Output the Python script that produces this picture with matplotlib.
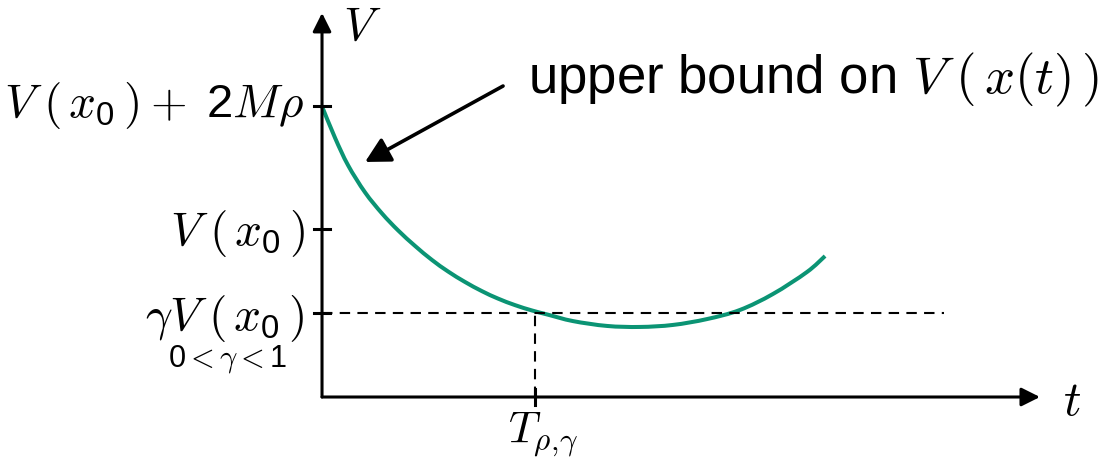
import matplotlib
matplotlib.use("Agg")
import matplotlib.pyplot as plt
from matplotlib.path import Path
from matplotlib.patches import PathPatch

plt.rcParams["mathtext.fontset"] = "cm"
plt.rcParams["font.family"] = ["Liberation Sans", "DejaVu Sans"]

# upper bound on V(x(t)) sampled along t
t_pts = [0.0, 0.061, 0.122, 0.202, 0.282, 0.357, 0.437, 0.516, 0.592, 0.671,
         0.751, 0.826, 0.906, 0.986, 1.061, 1.178, 1.338, 1.493, 1.648, 1.808,
         1.962, 2.117, 2.277, 2.362]
v_pts = [1.73, 1.543, 1.380, 1.218, 1.092, 0.992, 0.899, 0.816, 0.747, 0.685,
         0.630, 0.586, 0.547, 0.515, 0.490, 0.452, 0.423, 0.417, 0.429, 0.464,
         0.518, 0.613, 0.744, 0.839]

# levels on the V axis and their labels
v_levels = [1.73, 1.0, 0.5]
v_labels = [r"$V\;(\,x_{\mathregular{0}}\,)+\;\mathregular{2}M\rho$",
            r"$V\;(\,x_{\mathregular{0}}\,)$",
            r"$\gamma V\;(\,x_{\mathregular{0}}\,)$"]
label_base = [1.673, 0.911, 0.405]   # baselines of the level labels
t_hit = 1.0          # T_{rho,gamma}
t_dash_end = 2.92

GREEN = "#0b9474"
fig = plt.figure(figsize=(11.03, 4.6), dpi=100)
ax = fig.add_axes([0, 0, 1, 1])
ax.set_xlim(-1.512, 3.667)
ax.set_ylim(-0.369, 2.369)
ax.axis("off")

# axes with arrow heads
axis_kw = dict(arrowstyle="-|>,head_length=0.4,head_width=0.2", lw=2.2,
               color="black", mutation_scale=28, shrinkA=0, shrinkB=0)
ax.annotate("", xy=(0, 2.286), xytext=(0, 0), arrowprops=axis_kw)
ax.annotate("", xy=(3.371, 0), xytext=(0, 0), arrowprops=axis_kw)
ax.text(0.099, 2.131, r"$V$", fontsize=34, ha="left", va="baseline")
ax.text(3.479, -0.101, r"$t$", fontsize=35, ha="left", va="baseline")

# ticks and labels on the V axis
for lv, lab, yb in zip(v_levels, v_labels, label_base):
    ax.plot([-0.038, 0.038], [lv, lv], color="black", lw=2.2)
    ax.text(-0.08, yb, lab, fontsize=34, ha="right", va="baseline")
ax.text(-0.441, 0.185, r"$\mathregular{0}<\gamma<\mathregular{1}$",
        fontsize=22, ha="center", va="baseline")

# dashed guides at gamma*V(x0) and T
ax.plot([0, t_dash_end], [v_levels[2], v_levels[2]], color="black", lw=1.5,
        ls=(0, (5, 3.5)))
ax.plot([t_hit, t_hit], [0, v_levels[2]], color="black", lw=1.5, ls=(0, (5, 3.5)))
ax.plot([t_hit, t_hit], [-0.048, 0.048], color="black", lw=2.2)
ax.text(0.873, -0.268, r"$T_{\rho,\!\gamma}$", fontsize=32, ha="left",
        va="baseline")

# smooth curve through the sampled points (Catmull-Rom as cubic Beziers)
pts = list(zip(t_pts, v_pts))
verts = [pts[0]]
codes = [Path.MOVETO]
for i in range(len(pts) - 1):
    p0 = pts[i - 1] if i > 0 else pts[i]
    p1, p2 = pts[i], pts[i + 1]
    p3 = pts[i + 2] if i + 2 < len(pts) else pts[i + 1]
    c1 = (p1[0] + (p2[0] - p0[0]) / 6, p1[1] + (p2[1] - p0[1]) / 6)
    c2 = (p2[0] - (p3[0] - p1[0]) / 6, p2[1] - (p3[1] - p1[1]) / 6)
    verts += [c1, c2, p2]
    codes += [Path.CURVE4] * 3
ax.add_patch(PathPatch(Path(verts, codes), fill=False, edgecolor=GREEN,
                       lw=2.9, capstyle="butt", joinstyle="round"))

ax.annotate("", xy=(0.202, 1.399), xytext=(0.850, 1.851),
            arrowprops=dict(arrowstyle="-|>,head_length=0.75,head_width=0.4",
                            lw=2.6, color="black", mutation_scale=20,
                            shrinkA=0, shrinkB=0))
ax.text(0.967, 1.815, r"upper bound on $V\;(\,x(t)\,)$", fontsize=38,
        ha="left", va="baseline")

fig.savefig("out.png", dpi=100)
